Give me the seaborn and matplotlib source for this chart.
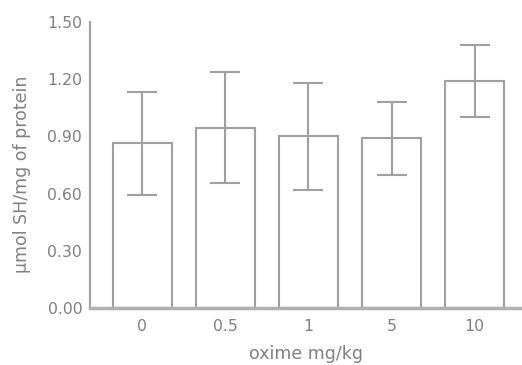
import pandas as pd
import matplotlib
matplotlib.use("Agg")
import matplotlib.pyplot as plt
import seaborn as sns

doses = ["0", "0.5", "1", "5", "10"]
means = [0.865, 0.945, 0.90, 0.89, 1.19]
errs = [0.27, 0.29, 0.28, 0.19, 0.19]

data = pd.DataFrame({"dose": doses, "value": means})

sns.set_style("white")
plt.rcParams["font.family"] = "DejaVu Sans"

gray = "#a0a0a0"
text_gray = "#808080"

fig = plt.figure(figsize=(5.22, 3.65), dpi=100)
ax = fig.add_axes([0.172, 0.156, 0.828, 0.784])

sns.barplot(data=data, x="dose", y="value", color="white",
            edgecolor=gray, linewidth=1.5, width=0.71,
            errorbar=None, ax=ax)

ax.errorbar(range(len(doses)), means, yerr=errs, fmt="none",
            ecolor=gray, elinewidth=1.5, capsize=11, capthick=1.5)

ax.set_xlim(-0.63, 4.57)
ax.set_ylim(0, 1.5)
ax.set_yticks([0, 0.3, 0.6, 0.9, 1.2, 1.5])
ax.set_yticklabels(["0.00", "0.30", "0.60", "0.90", "1.20", "1.50"])

ax.set_xlabel("oxime mg/kg", fontsize=12.5, color=text_gray)
ax.set_ylabel("µmol SH/mg of protein", fontsize=12.5, color=text_gray)
ax.xaxis.set_label_coords(0.5, -0.13)
ax.yaxis.set_label_coords(-0.135, 0.467)

ax.tick_params(axis="y", direction="in", length=6, width=1.2, color=gray,
               labelsize=11.3, labelcolor=text_gray, pad=5.5)
ax.tick_params(axis="x", length=0, labelsize=11.3, labelcolor=text_gray, pad=8)

sns.despine(ax=ax)
ax.spines["left"].set_color(gray)
ax.spines["left"].set_linewidth(1.5)
ax.spines["bottom"].set_color("#b0b0b0")
ax.spines["bottom"].set_linewidth(2.5)

fig.savefig("out.png", dpi=100)
